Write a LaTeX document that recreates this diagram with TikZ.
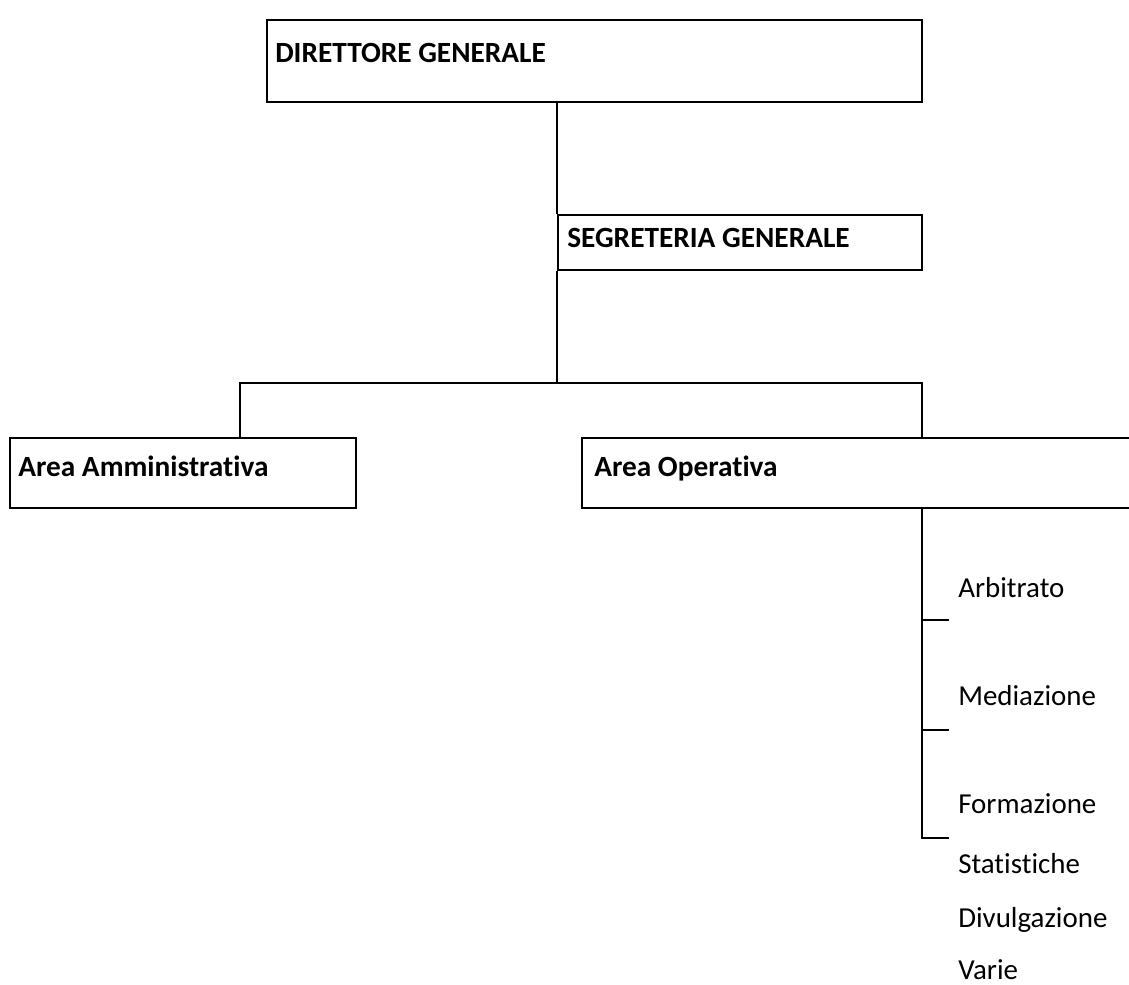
\documentclass[tikz,border=0pt]{standalone}
\usepackage{fontspec}
\setmainfont{Carlito}[Ligatures=NoCommon]
\usetikzlibrary{fit}
\tikzset{
	box/.style={draw, line width=1.5pt, inner sep=0pt},
	boxtext/.style={anchor=base west, inner sep=0pt, font=\fontsize{22}{26}\selectfont\bfseries},
	itemtext/.style={anchor=base west, inner sep=0pt, font=\fontsize{21.7}{26}\selectfont},
	link/.style={line width=1.2pt}
}
\begin{document}
\begin{tikzpicture}[x=0.75pt, y=-0.75pt]
	\useasboundingbox (0, 0) rectangle (1129, 985);

	% boxes
	\coordinate (dgA) at (267, 20);
	\coordinate (dgB) at (922, 102);
	\node[box, fit=(dgA)(dgB)] (dg) {};
	\node[boxtext] (dgtext) at (275, 62) {DIRETTORE GENERALE};

	\coordinate (sgA) at (558, 215);
	\coordinate (sgB) at (922, 270);
	\node[box, fit=(sgA)(sgB)] (sg) {};
	\node[boxtext] (sgtext) at (567, 247) {SEGRETERIA GENERALE};

	\coordinate (aaA) at (10, 438);
	\coordinate (aaB) at (356, 508);
	\node[box, fit=(aaA)(aaB)] (aa) {};
	\node[boxtext] (aatext) at (18, 476) {Area Amministrativa};

	\coordinate (aoA) at (582, 438);
	\coordinate (aoB) at (1140, 508);
	\node[box, fit=(aoA)(aoB)] (ao) {};
	\node[boxtext] (aotext) at (594, 476) {Area Operativa};

	% connectors
	\coordinate (busL) at (240, 383);
	\coordinate (busR) at (922, 383);
	\draw[link] (dg.south -| sg.west) -- (sg.north west);
	\draw[link] (sg.south west) -- (sg.south west |- busL);
	\draw[link] (busL |- aa.north) -- (busL) -- (busR) -- (busR |- ao.north);

	% sotto-aree
	\coordinate (t1) at (949, 620);
	\coordinate (t2) at (949, 730);
	\coordinate (t3) at (949, 838);
	\draw[link] (ao.south -| t1) ++(-27, 0) coordinate (down) -- (down |- t3) -- (t3);
	\draw[link] (down |- t1) -- (t1);
	\draw[link] (down |- t2) -- (t2);

	\node[itemtext] (arb) at (958, 597) {Arbitrato};
	\node[itemtext] (med) at (958, 705) {Mediazione};
	\node[itemtext] (form) at (958, 813) {Formazione};
	\node[itemtext] (stat) at (958, 873) {Statistiche};
	\node[itemtext] (div) at (958, 927) {Divulgazione};
	\node[itemtext] (var) at (958, 979) {Varie};
\end{tikzpicture}
\end{document}
